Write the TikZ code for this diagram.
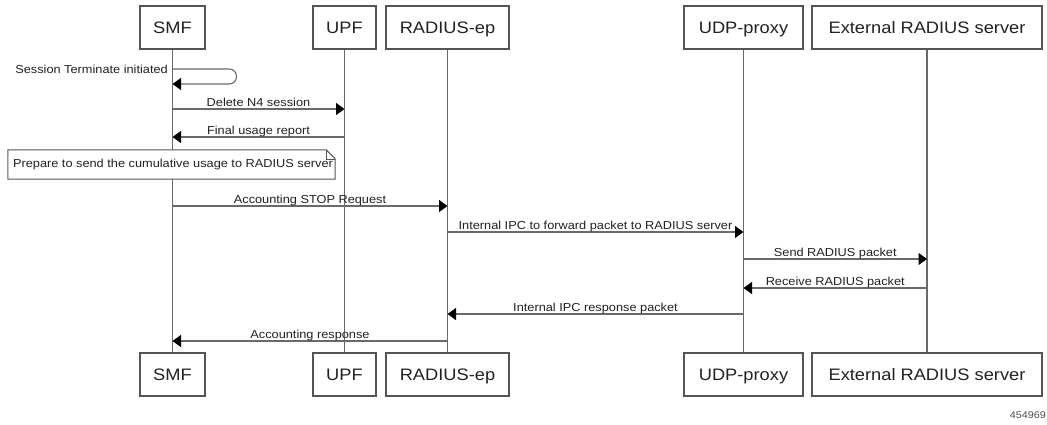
\documentclass[tikz,border=0pt]{standalone}
\usepackage{fontspec}
\setmainfont{Liberation Sans}[FakeStretch=1.1]
\usetikzlibrary{arrows.meta}
\definecolor{boxc}{HTML}{555555}
\definecolor{linec}{HTML}{6A6A6A}
\definecolor{txt}{HTML}{222222}
\tikzset{
  actor/.style={draw=boxc, line width=1.1pt, fill=white, minimum height=43pt, inner sep=0pt, text height=11.7pt, text depth=0pt, font=\fontsize{16.6}{18}\selectfont, text=txt},
  life/.style={draw=linec, line width=1.1pt},
  msg/.style={draw=linec, line width=1.1pt, -{Triangle[length=8.5pt,width=12pt,color=black]}},
  lbl/.style={font=\fontsize{11.6}{13}\selectfont, text=txt, anchor=base, inner sep=0pt, yshift=2.3pt},
}
\begin{document}
\begin{tikzpicture}[x=1pt,y=-1pt]
\useasboundingbox[fill=white] (0,0) rectangle (1047,424);
% actors
\node[actor, minimum width=65pt]  (smfT) at (172.5,27.5) {SMF};
\node[actor, minimum width=63pt]  (upfT) at (344.5,27.5) {UPF};
\node[actor, minimum width=123pt] (radT) at (447.5,27.5) {RADIUS-ep};
\node[actor, minimum width=119pt] (udpT) at (743.5,27.5) {UDP-proxy};
\node[actor, minimum width=230pt] (extT) at (927,27.5) {External RADIUS server};
\node[actor, minimum width=65pt]  (smfB) at (172.5,374.5) {SMF};
\node[actor, minimum width=63pt]  (upfB) at (344.5,374.5) {UPF};
\node[actor, minimum width=123pt] (radB) at (447.5,374.5) {RADIUS-ep};
\node[actor, minimum width=119pt] (udpB) at (743.5,374.5) {UDP-proxy};
\node[actor, minimum width=230pt] (extB) at (927,374.5) {External RADIUS server};
% lifelines
\draw[life] (smfT) -- (smfB);
\draw[life] (upfT) -- (upfB);
\draw[life] (radT) -- (radB);
\draw[life] (udpT) -- (udpB);
\draw[life] (extT) -- (extB);
% row coordinates
\coordinate (r0) at (0,69);
\coordinate (r0b) at (0,84);
\coordinate (r1) at (0,109);
\coordinate (r2) at (0,137);
\coordinate (r3) at (0,206);
\coordinate (r4) at (0,232);
\coordinate (r5) at (0,259);
\coordinate (r6) at (0,288);
\coordinate (r7) at (0,314);
\coordinate (r8) at (0,341);
\coordinate (loopA) at (229,69);
\coordinate (loopB) at (229,84);
% self message
\draw[msg] (smfT |- r0) -- (loopA) .. controls (239,69) and (239,84) .. (loopB) -- (smfT |- r0b);
\node[font=\fontsize{11.6}{13}\selectfont, text=txt, anchor=base east, inner sep=0pt] (selfl) at (168,73) {Session Terminate initiated};
% messages
\draw[msg] (smfT |- r1) -- node[lbl] {Delete N4 session} (upfT |- r1);
\draw[msg] (upfT |- r2) -- node[lbl] {Final usage report} (smfT |- r2);
% note
\node[minimum width=327pt, minimum height=29pt, inner sep=0pt] (note) at (171.5,164.5) {};
\fill[white] (note.north west) -- ([xshift=-9pt]note.north east) -- ([yshift=-9pt]note.north east) -- (note.south east) -- (note.south west) -- cycle;
\draw[boxc, line width=1pt] (note.north west) -- ([xshift=-9pt]note.north east) -- ([yshift=-9pt]note.north east) -- (note.south east) -- (note.south west) -- cycle;
\draw[boxc, line width=0.6pt] ([xshift=-9pt]note.north east) -- ([xshift=-9pt,yshift=-9pt]note.north east) -- ([yshift=-9pt]note.north east);
\node[font=\fontsize{11.6}{13}\selectfont, text=txt, inner sep=0pt] (notet) at ([xshift=1.5pt]note.center) {Prepare to send the cumulative usage to RADIUS server};
\draw[msg] (smfT |- r3) -- node[lbl] {Accounting STOP Request} (radT |- r3);
\draw[msg] (radT |- r4) -- node[lbl] {Internal IPC to forward packet to RADIUS server} (udpT |- r4);
\draw[msg] (udpT |- r5) -- node[lbl] {Send RADIUS packet} (extT |- r5);
\draw[msg] (extT |- r6) -- node[lbl] {Receive RADIUS packet} (udpT |- r6);
\draw[msg] (udpT |- r7) -- node[lbl] {Internal IPC response packet} (radT |- r7);
\draw[msg] (radT |- r8) -- node[lbl] {Accounting response} (smfT |- r8);
% figure id
\node[font=\fontsize{9.8}{11}\selectfont, text=txt!80, anchor=east, inner sep=0pt] (fid) at (1046,415) {454969};
\end{tikzpicture}
\end{document}
